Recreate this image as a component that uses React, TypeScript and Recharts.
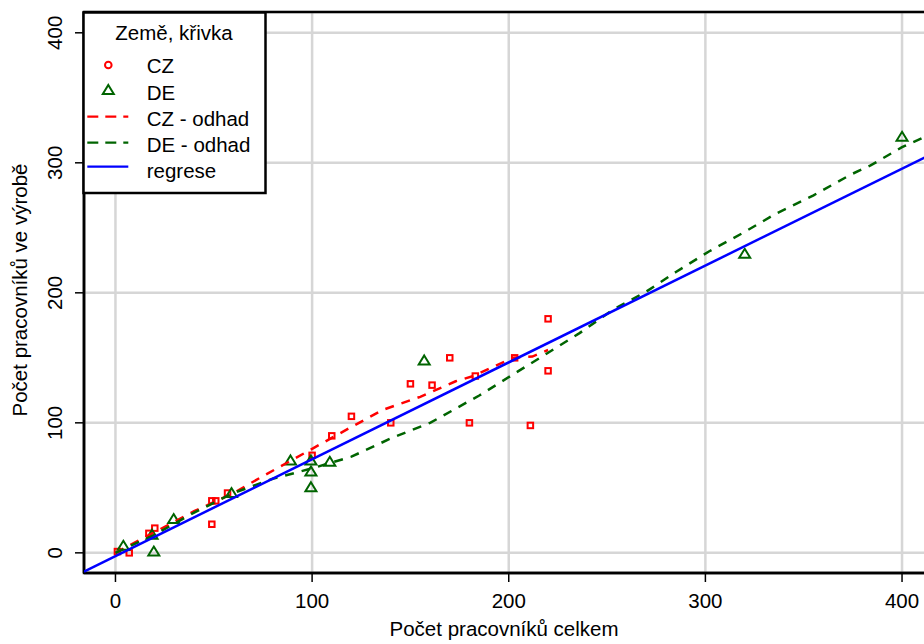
import React from 'react';
import { ScatterChart, Scatter, XAxis, YAxis, CartesianGrid, ReferenceArea } from 'recharts';

const czX = [1, 7, 17, 20, 49, 49, 51, 57, 100, 110, 120, 140, 150, 161, 170, 180, 183, 203, 211, 220, 220];
const czY = [1, 0, 15, 19, 22, 40, 40, 46, 75, 90, 105, 100, 130, 129, 150, 100, 136, 150, 98, 140, 180];

const deX = [4, 19.5, 18.6, 29.6, 59, 89, 99.4, 99.4, 99.4, 109, 157, 320, 400];
const deY = [5.4, 1, 14, 26, 46, 71, 71, 62.5, 50.5, 70, 148, 230, 320];

const czFitX = [0, 20, 40, 60, 75, 100, 119, 136, 155, 173, 182, 202, 212, 220];
const czFitY = [0, 16, 32, 46, 59, 80, 96, 110, 120, 132, 136, 150, 151, 156];

const deFitX = [0, 20, 40, 60, 80, 100, 120, 140, 160, 185, 202, 236, 253, 270, 285, 302, 319, 336, 355, 374, 384, 400, 416];
const deFitY = [0, 14, 31, 46, 57, 65, 74, 88, 100, 121, 137, 169, 187, 201, 216, 232, 246, 261, 275, 291, 298, 312, 323];

const regX = [-16, 416];
const regY = [-14.4, 307.4];

const xTicks = [0, 100, 200, 300, 400];
const yTicks = [0, 100, 200, 300, 400];

const xTitle = 'Počet pracovníků celkem';
const yTitle = 'Počet pracovníků ve výrobě';
const legendTitle = 'Země, křivka';
const legendLabels = ['CZ', 'DE', 'CZ - odhad', 'DE - odhad', 'regrese'];

const zip = (xs: number[], ys: number[]) => xs.map((x, i) => ({ x, y: ys[i] }));

const czData = zip(czX, czY);
const deData = zip(deX, deY);
const czFit = zip(czFitX, czFitY);
const deFit = zip(deFitX, deFitY);
const regData = zip(regX, regY);

const FONT = "'Liberation Sans', Arial, sans-serif";
const FS = 20.5;
const RED = '#ff0000';
const GREEN = '#006400';
const BLUE = '#0000ff';

const CzShape = (p: any) => (
  <rect x={p.cx - 2.75} y={p.cy - 2.75} width={5.5} height={5.5} fill="none" stroke={RED} strokeWidth={2} />
);
const DeShape = (p: any) => (
  <path
    d={`M${p.cx},${p.cy - 5} L${p.cx + 5.5},${p.cy + 4} L${p.cx - 5.5},${p.cy + 4} Z`}
    fill="none"
    stroke={GREEN}
    strokeWidth={2}
  />
);
const NoShape = () => <g />;

const YTick = (p: any) => (
  <text
    x={p.x}
    y={p.y}
    transform={`rotate(-90 ${p.x} ${p.y})`}
    textAnchor="middle"
    fontSize={FS}
    fontFamily={FONT}
    fill="#000"
  >
    {p.payload.value}
  </text>
);

const XTitle = (p: any) => {
  const vb = p.viewBox || { x: 84, y: 573, width: 850, height: 71 };
  return (
    <text x={vb.x + vb.width / 2 - 4.7} y={vb.y + 63} textAnchor="middle" fontSize={FS} fontFamily={FONT} fill="#000">
      {xTitle}
    </text>
  );
};

const YTitle = (p: any) => {
  const vb = p.viewBox || { x: 0, y: 12, width: 84, height: 561 };
  const cx = vb.x + 26.5;
  const cy = vb.y + vb.height / 2 - 2.5;
  return (
    <text x={cx} y={cy} transform={`rotate(-90 ${cx} ${cy})`} textAnchor="middle" fontSize={FS} fontFamily={FONT} fill="#000">
      {yTitle}
    </text>
  );
};

const Legend = () => {
  const rows = [65, 90, 116.7, 142.7, 166.7];
  const baselines = [73.3, 99.5, 125.5, 151.5, 177.5];
  return (
    <svg width={924} height={644} style={{ position: 'absolute', left: 0, top: 0, pointerEvents: 'none' }}>
      <rect x={83.5} y={12.5} width={182} height={180.5} fill="#fff" stroke="#000" strokeWidth={2.5} />
      <text x={174} y={39.5} textAnchor="middle" fontSize={FS} fontFamily={FONT} fill="#000">
        {legendTitle}
      </text>
      <circle cx={108.3} cy={rows[0]} r={3.3} fill="none" stroke={RED} strokeWidth={2} />
      <path
        d={`M108.3,${rows[1] - 5} L113.8,${rows[1] + 4} L102.8,${rows[1] + 4} Z`}
        fill="none"
        stroke={GREEN}
        strokeWidth={2}
      />
      <line x1={87.3} x2={128.3} y1={rows[2]} y2={rows[2]} stroke={RED} strokeWidth={2.2} strokeDasharray="11 7" />
      <line x1={87.3} x2={128.3} y1={rows[3]} y2={rows[3]} stroke={GREEN} strokeWidth={2.2} strokeDasharray="11 7" />
      <line x1={87.3} x2={128.3} y1={rows[4]} y2={rows[4]} stroke={BLUE} strokeWidth={2.2} />
      {legendLabels.map((t, i) => (
        <text key={t} x={146.7} y={baselines[i]} fontSize={FS} fontFamily={FONT} fill="#000">
          {t}
        </text>
      ))}
    </svg>
  );
};

export default function App() {
  return (
    <div style={{ position: 'absolute', left: 0, top: 0, width: 924, height: 644, overflow: 'hidden', background: '#fff' }}>
      <ScatterChart width={950} height={644} margin={{ top: 12, right: 16.5, bottom: 0, left: 0 }}>
        <CartesianGrid stroke="#d6d6d6" strokeWidth={2.5} />
        <XAxis
          type="number"
          dataKey="x"
          domain={[-16, 416]}
          ticks={xTicks}
          allowDataOverflow
          height={71}
          tickSize={9}
          tickMargin={11}
          tickLine={{ stroke: '#000', strokeWidth: 1.5 }}
          axisLine={{ stroke: '#000', strokeWidth: 2.5 }}
          tick={{ fontSize: FS, fontFamily: FONT, fill: '#000' }}
          label={<XTitle />}
        />
        <YAxis
          type="number"
          dataKey="y"
          domain={[-15.5, 416]}
          ticks={yTicks}
          allowDataOverflow
          width={84}
          tickSize={9}
          tickMargin={13}
          tickLine={{ stroke: '#000', strokeWidth: 1.5 }}
          axisLine={{ stroke: '#000', strokeWidth: 2.5 }}
          tick={<YTick />}
          label={<YTitle />}
        />
        <Scatter data={czData} shape={<CzShape />} isAnimationActive={false} />
        <Scatter data={deData} shape={<DeShape />} isAnimationActive={false} />
        <Scatter
          data={czFit}
          shape={<NoShape />}
          line={{ stroke: RED, strokeWidth: 2.5, strokeDasharray: '9 8' }}
          lineType="joint"
          isAnimationActive={false}
        />
        <Scatter
          data={deFit}
          shape={<NoShape />}
          line={{ stroke: GREEN, strokeWidth: 2.5, strokeDasharray: '9 8' }}
          lineType="joint"
          isAnimationActive={false}
        />
        <Scatter
          data={regData}
          shape={<NoShape />}
          line={{ stroke: BLUE, strokeWidth: 2.5 }}
          lineType="joint"
          isAnimationActive={false}
        />
        <ReferenceArea x1={-16} x2={416} y1={-15.5} y2={416} fill="none" fillOpacity={0} stroke="#000" strokeWidth={2.5} ifOverflow="visible" />
      </ScatterChart>
      <Legend />
    </div>
  );
}
